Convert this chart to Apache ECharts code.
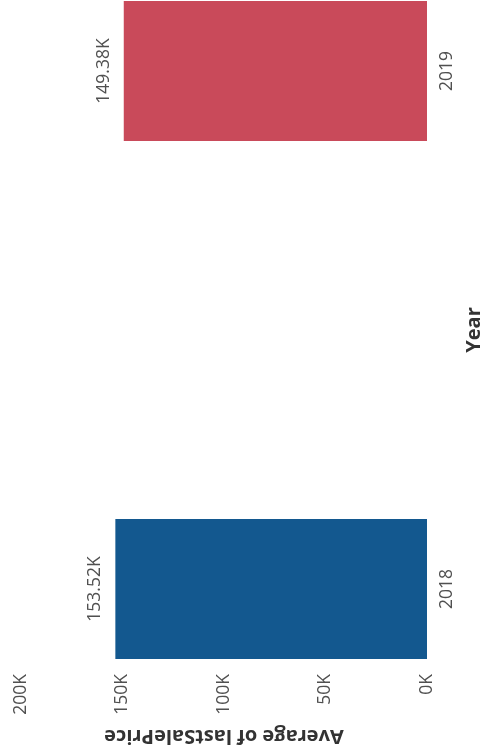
<!DOCTYPE html>
<html>
<head>
<meta charset="utf-8">
<script src="https://cdn.jsdelivr.net/npm/echarts@6/dist/echarts.min.js"></script>
<style>html,body{margin:0;padding:0;background:#fff}#c{width:485px;height:754px}</style>
</head>
<body>
<div id="c"></div>
<script>
const categories = ['2018', '2019'];
const values = [153520, 149380];
const labels = ['153.52K', '149.38K'];
const barColors = ['#13588f', '#c94a5a'];
const tickValues = [0, 50000, 100000, 150000, 200000];

const chart = echarts.init(document.getElementById('c'));
const font = '"Open Sans", "Noto Sans", sans-serif';
chart.setOption({
  animation: false,
  grid: { left: 21, right: 58, top: 71, bottom: 165, containLabel: false, outerBoundsMode: 'none' },
  xAxis: {
    type: 'value', inverse: true, position: 'bottom', offset: 81,
    min: tickValues[0], max: tickValues[tickValues.length - 1], interval: 50000,
    axisLine: { show: false }, axisTick: { show: false }, splitLine: { show: false },
    axisLabel: {
      rotate: 90, margin: 4, color: '#505050', fontFamily: font, fontSize: 17.5,
      formatter: v => (v / 1000) + 'K'
    },
    name: 'Average of lastSalePrice', nameLocation: 'middle', nameRotate: 180, nameGap: 56,
    nameTextStyle: { color: '#333', fontFamily: font, fontSize: 20, fontWeight: 'bold' }
  },
  yAxis: {
    type: 'category', data: categories, position: 'right', boundaryGap: false,
    axisLine: { show: false }, axisTick: { show: false }, splitLine: { show: false },
    axisLabel: { rotate: 90, margin: 11, color: '#505050', fontFamily: font, fontSize: 17.5 },
    name: 'Year', nameLocation: 'middle', nameRotate: 90, nameGap: 37,
    nameTextStyle: { color: '#333', fontFamily: font, fontSize: 20, fontWeight: 'bold' }
  },
  series: [{
    type: 'bar', clip: false, barWidth: 140,
    data: values.map((v, i) => ({ value: v, itemStyle: { color: barColors[i] } })),
    label: {
      show: true, position: 'left', distance: 11, rotate: 90,
      align: 'center', verticalAlign: 'bottom',
      color: '#505050', fontFamily: font, fontSize: 17.5,
      formatter: p => labels[p.dataIndex]
    }
  }]
});
</script>
</body>
</html>
